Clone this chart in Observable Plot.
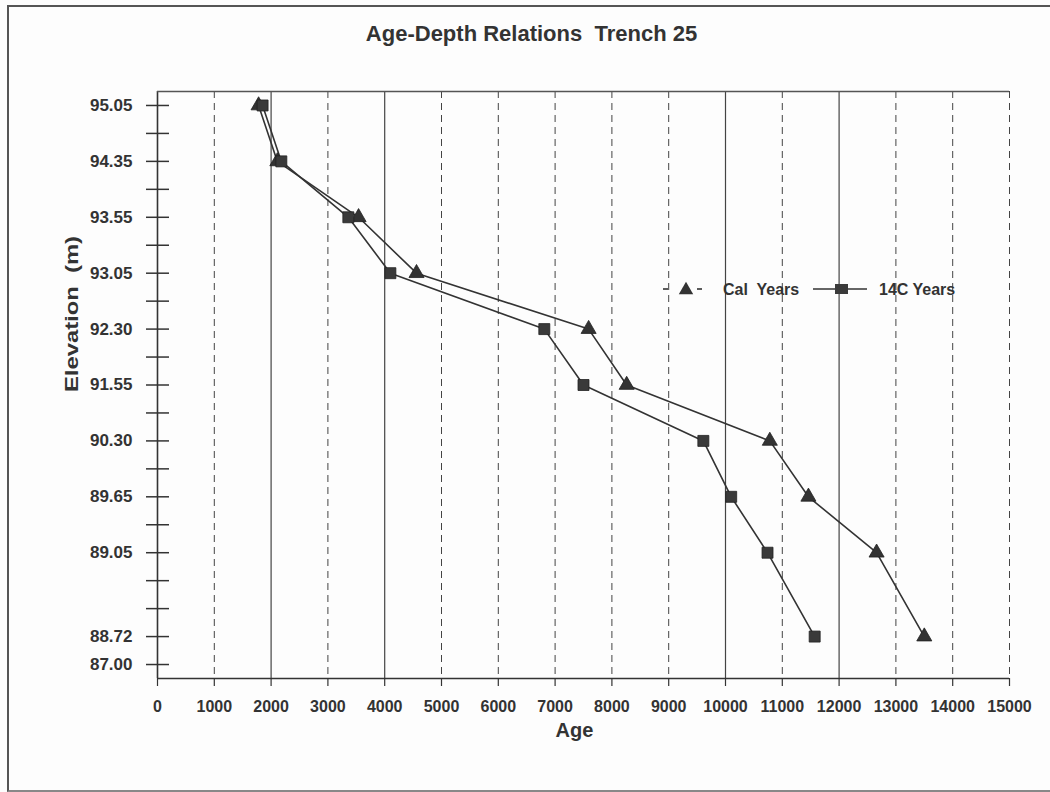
<!DOCTYPE html>
<html>
<head>
<meta charset="utf-8">
<script src="https://cdn.jsdelivr.net/npm/d3@7"></script>
<script src="https://cdn.jsdelivr.net/npm/@observablehq/plot@0.6"></script>
<style>
  body { margin: 0; background: #fff; }
  #wrap { position: relative; width: 1050px; height: 792px; overflow: hidden;
          font-family: "Liberation Sans", Arial, Helvetica, sans-serif; background: #fdfdfd; }
  #border { position: absolute; left: 7px; top: 5px; width: 1060px; height: 783px;
            border-top: 2px solid #555; border-left: 2px solid #555; border-bottom: 2px solid #888; }
  #chart { position: absolute; left: 0; top: 0; }
  #legend { position: absolute; left: 655px; top: 276px; }
</style>
</head>
<body>
<div id="wrap">
  <div id="border"></div>
  <div id="chart"></div>
  <svg id="legend" width="330" height="28"></svg>
</div>
<script>
// ---- data ----
const title = "Age-Depth Relations  Trench 25";
const xLabel = "Age";
const yLabel = "Elevation  (m)";
const elevations = ["95.05", "94.35", "93.55", "93.05", "92.30", "91.55", "90.30", "89.65", "89.05", "88.72", "87.00"];
const elevationSlots = [0, 2, 4, 6, 8, 10, 12, 14, 16, 19, 20];   // position of each label on the axis
const minorSlots = d3.range(0, 21);
const calYears = [1780, 2110, 3540, 4560, 7590, 8260, 10780, 11460, 12660, 13500];
const c14Years = [1850, 2180, 3360, 4100, 6810, 7500, 9610, 10100, 10740, 11570];
const xTicks = d3.range(0, 15001, 1000);
const solidGrid = [2000, 4000, 10000, 12000];
const dashedGrid = xTicks.filter(d => d > 0 && !solidGrid.includes(d));
const seriesNames = ["Cal  Years", "14C Years"];

const table = calYears.map((c, i) => ({
  elevation: elevations[i], slot: elevationSlots[i], cal: c, c14: c14Years[i]
}));

const ink = "#333";
const W = 1050, H = 792, mL = 157, mR = 41, mT = 91, mB = 114;
const frameW = W - mL - mR;

const chart = Plot.plot({
  width: W, height: H,
  marginLeft: mL, marginRight: mR, marginTop: mT, marginBottom: mB,
  style: { fontFamily: '"Liberation Sans", Arial, sans-serif', background: "transparent", color: ink },
  x: { domain: [0, 15000] },
  y: { domain: [-0.5, 20.5], reverse: true },
  marks: [
    Plot.ruleX(dashedGrid, { stroke: "#444", strokeWidth: 1, strokeDasharray: "7,5" }),
    Plot.ruleX(solidGrid, { stroke: "#444", strokeWidth: 1.2 }),
    Plot.ruleX([0], { stroke: ink, strokeWidth: 1.6 }),
    Plot.ruleY([-0.5], { stroke: "#555", strokeWidth: 1.6 }),
    Plot.ruleY([20.5], { stroke: ink, strokeWidth: 1.6 }),
    Plot.tickY(minorSlots, { y: d => d, insetLeft: -11, insetRight: frameW - 12, stroke: ink, strokeWidth: 1.5 }),
    Plot.axisX({ ticks: xTicks, tickSize: 8, tickPadding: 14, fontSize: 16, fontWeight: "bold",
                 tickFormat: d => String(d), label: null, stroke: ink, strokeWidth: 1.2 }),
    Plot.axisY({ ticks: elevationSlots, tickSize: 0, tickPadding: 25, fontSize: 17, fontWeight: "bold",
                 tickFormat: d => elevations[elevationSlots.indexOf(d)], label: null }),
    Plot.line(table, { x: "cal", y: "slot", stroke: ink, strokeWidth: 1.6 }),
    Plot.line(table, { x: "c14", y: "slot", stroke: ink, strokeWidth: 1.6 }),
    Plot.dot(table, { x: "cal", y: "slot", symbol: "triangle", r: 5.6, fill: ink, stroke: "#222", strokeWidth: 0.8 }),
    Plot.dot(table, { x: "c14", y: "slot", symbol: "square", r: 6.2, fill: "#3a3a3a", stroke: "#222", strokeWidth: 0.8 }),
    Plot.text([title], { frameAnchor: "top", dx: -52, dy: -66, fontSize: 22, fontWeight: "bold", fill: ink }),
    Plot.text([xLabel], { frameAnchor: "bottom", dx: -9, dy: 58, fontSize: 20, fontWeight: "bold", fill: ink }),
    Plot.text([yLabel], { frameAnchor: "left", dx: -86, dy: 7, rotate: -90, fontSize: 19, fontWeight: "bold", fill: ink })
  ]
});
document.getElementById("chart").append(chart);

// stretch the y label as in the scan
d3.select(chart).selectAll("text").filter(function () { return this.textContent === yLabel; })
  .attr("textLength", 156).attr("lengthAdjust", "spacingAndGlyphs");

// ---- legend ----
const lg = d3.select("#legend");
const cy = 13;
lg.append("line").attr("x1", 8).attr("x2", 13).attr("y1", cy).attr("y2", cy).attr("stroke", ink).attr("stroke-width", 1.6);
lg.append("line").attr("x1", 42).attr("x2", 47).attr("y1", cy).attr("y2", cy).attr("stroke", ink).attr("stroke-width", 1.6);
lg.append("path").attr("d", d3.symbol(d3.symbolTriangle, 90)()).attr("transform", `translate(31,${cy + 1})`).attr("fill", ink);
lg.append("text").attr("x", 68).attr("y", cy).attr("dy", "0.35em").attr("font-size", 16).attr("font-weight", "bold")
  .attr("fill", ink).attr("xml:space", "preserve").style("white-space", "pre").text(seriesNames[0]);
lg.append("line").attr("x1", 158).attr("x2", 212).attr("y1", cy).attr("y2", cy).attr("stroke", ink).attr("stroke-width", 1.6);
lg.append("rect").attr("x", 180).attr("y", cy - 5).attr("width", 13).attr("height", 10).attr("fill", "#3a3a3a");
lg.append("text").attr("x", 224).attr("y", cy).attr("dy", "0.35em").attr("font-size", 16).attr("font-weight", "bold")
  .attr("fill", ink).text(seriesNames[1]);
</script>
</body>
</html>
